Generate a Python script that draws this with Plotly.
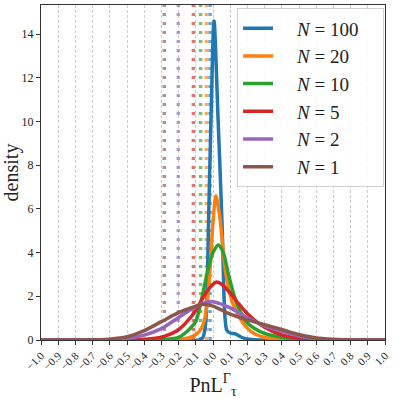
import plotly.graph_objects as go

# density curves (x = PnL, d = density)
x_n100 = [-1.0, -0.08, -0.06, -0.045, -0.035, -0.027, -0.012, 0.006, 0.03, 0.054, 0.062, 0.07, 0.08, 0.1, 0.13, 0.16, 0.19, 0.24, 1.0]
d_n100 = [0, 0, 0.1, 0.6, 2.0, 5.0, 10.0, 14.6, 10.0, 5.0, 2.5, 1.0, 0.45, 0.32, 0.28, 0.15, 0.06, 0.01, 0]

x_n20 = [-1.0, -0.3, -0.2, -0.15, -0.1, -0.07, -0.05, -0.03, -0.017, 0.0, 0.017, 0.04, 0.07, 0.1, 0.13, 0.2, 0.25, 0.3, 0.4, 0.5, 1.0]
d_n20 = [0, 0, 0.03, 0.08, 0.25, 0.5, 0.9, 2.0, 3.3, 5.4, 6.6, 5.6, 3.3, 2.05, 1.4, 0.53, 0.25, 0.12, 0.02, 0, 0]

x_n10 = [-1.0, -0.35, -0.25, -0.2, -0.15, -0.1, -0.08, -0.06, -0.03, 0.0, 0.031, 0.06, 0.09, 0.12, 0.15, 0.2, 0.3, 0.4, 0.5, 0.6, 1.0]
d_n10 = [0, 0, 0.05, 0.12, 0.4, 0.85, 1.4, 2.1, 3.2, 4.0, 4.35, 4.0, 3.0, 2.1, 1.45, 0.78, 0.3, 0.12, 0.04, 0.01, 0]

x_n5 = [-1.0, -0.5, -0.4, -0.3, -0.2, -0.15, -0.1, -0.05, 0.0, 0.02, 0.05, 0.1, 0.15, 0.2, 0.3, 0.4, 0.5, 0.6, 0.7, 1.0]
d_n5 = [0, 0, 0.03, 0.13, 0.47, 0.85, 1.35, 2.05, 2.55, 2.65, 2.55, 2.15, 1.65, 1.2, 0.58, 0.23, 0.08, 0.02, 0, 0]

x_n2 = [-1.0, -0.7, -0.6, -0.5, -0.4, -0.3, -0.2, -0.1, -0.03, 0.0, 0.1, 0.2, 0.3, 0.4, 0.5, 0.6, 0.7, 0.8, 1.0]
d_n2 = [0, 0, 0.02, 0.07, 0.22, 0.52, 1.03, 1.52, 1.75, 1.75, 1.47, 1.02, 0.65, 0.4, 0.18, 0.06, 0.01, 0, 0]

x_n1 = [-1.0, -0.8, -0.7, -0.6, -0.5, -0.4, -0.3, -0.2, -0.1, -0.06, 0.0, 0.1, 0.2, 0.3, 0.4, 0.5, 0.6, 0.7, 0.8, 1.0]
d_n1 = [0, 0, 0.01, 0.04, 0.15, 0.43, 0.84, 1.25, 1.55, 1.63, 1.55, 1.18, 0.92, 0.7, 0.48, 0.25, 0.09, 0.03, 0, 0]

labels = ["100", "20", "10", "5", "2", "1"]
colors = ["#1f77b4", "#ff7f0e", "#2ca02c", "#d62728", "#9467bd", "#8c564b"]
# dotted vertical markers (one per N)
quantiles = [-0.017, -0.039, -0.072, -0.114, -0.202, -0.283]
y_top = 15.33

xs = [x_n100, x_n20, x_n10, x_n5, x_n2, x_n1]
ds = [d_n100, d_n20, d_n10, d_n5, d_n2, d_n1]
tick_vals = [round(-1.0 + 0.1 * i, 1) for i in range(21)]
tick_text = [("\u2212" if v < 0 else "") + "%.1f" % abs(v) for v in tick_vals]

font = "Liberation Serif"
pad = "\u00a0" * 4
tail = "\u00a0" * 4
fig = go.Figure()
for q, c in zip(quantiles, colors):
    fig.add_trace(go.Scatter(x=[q, q], y=[0, y_top], mode="lines", showlegend=False,
                             opacity=0.65, hoverinfo="skip",
                             line=dict(color=c, width=3.5, dash="3px,6px")))
for x, d, lab, c in zip(xs, ds, labels, colors):
    fig.add_trace(go.Scatter(x=x, y=d, mode="lines", name=pad + "<i>N</i> = " + lab + tail,
                             line=dict(color=c, width=3.5, shape="spline", smoothing=0.8)))

fig.update_layout(
    width=399, height=399,
    margin=dict(l=41, r=14, t=5, b=59),
    plot_bgcolor="white", paper_bgcolor="white",
    font=dict(family=font, color="#222", size=11),
    legend=dict(x=0.57, y=0.99, xanchor="left", yanchor="top",
                font=dict(size=19, family=font), bgcolor="rgba(255,255,255,0.85)",
                bordercolor="#d0d0d0", borderwidth=1),
)
fig.update_xaxes(range=[-1.0, 1.0], tickvals=tick_vals, ticktext=tick_text, tickangle=-45,
                 tickfont=dict(family=font, size=11), automargin=False,
                 showgrid=True, gridcolor="#cccccc", griddash="3px,2px", gridwidth=0.7,
                 showline=True, linecolor="#333", linewidth=1, mirror=True,
                 ticks="outside", ticklen=4, tickcolor="#333", zeroline=False,
                 title=dict(text="PnL<sup>\u0393</sup><sub>\u03c4</sub>", font=dict(size=20, family=font), standoff=2))
fig.update_yaxes(range=[0, y_top], tickvals=[0, 2, 4, 6, 8, 10, 12, 14], showgrid=False,
                 tickfont=dict(family=font, size=12), automargin=False,
                 showline=True, linecolor="#333", linewidth=1, mirror=True,
                 ticks="outside", ticklen=4, tickcolor="#333", zeroline=False,
                 title=dict(text="density", font=dict(size=20, family=font), standoff=4))
fig.write_html("out.html", config={"displayModeBar": False},
               post_script="document.body.style.margin='0';")
